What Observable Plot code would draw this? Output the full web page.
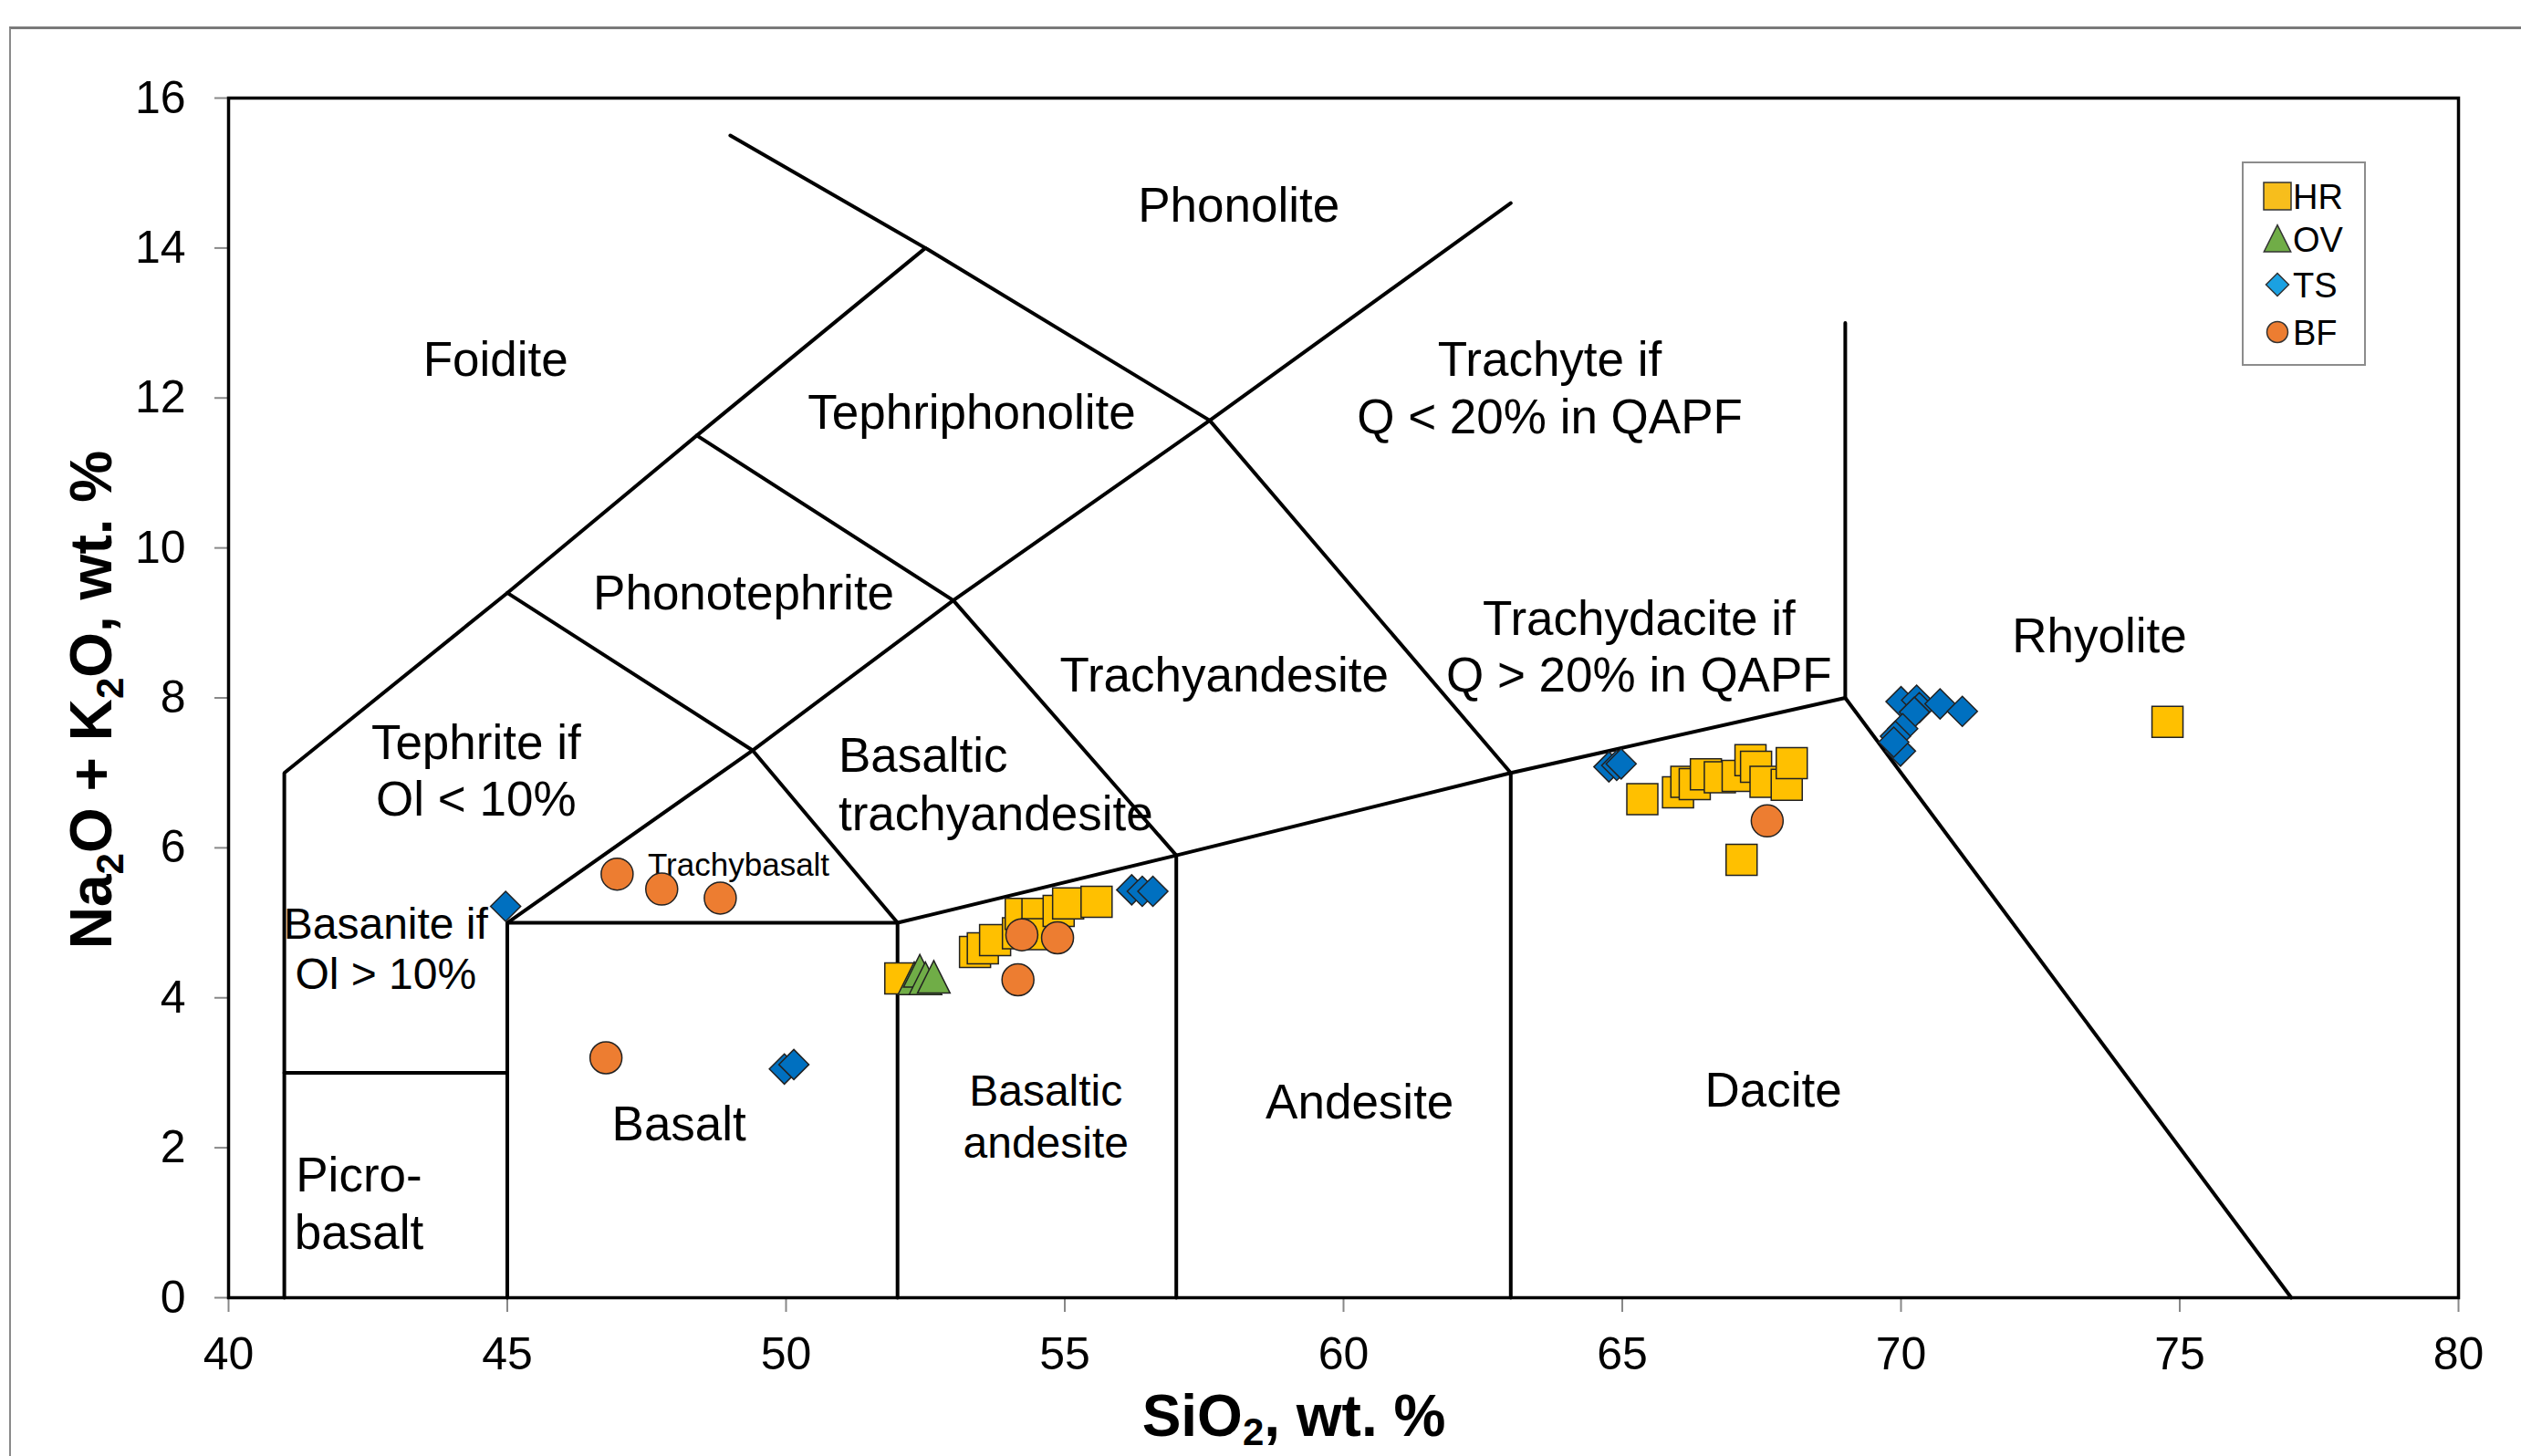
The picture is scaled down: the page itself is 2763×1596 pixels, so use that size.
<!DOCTYPE html>
<html><head><meta charset="utf-8">
<script src="https://cdn.jsdelivr.net/npm/d3@7"></script>
<script src="https://cdn.jsdelivr.net/npm/@observablehq/plot@0.6"></script>
<style>
html,body{margin:0;padding:0;background:#fff;overflow:hidden;}
#wrap{position:relative;width:2763px;height:1596px;overflow:hidden;}
#wrap svg{position:absolute;left:0;top:0;}
#border{position:absolute;left:10px;top:29px;width:2800px;height:1700px;border-top:3px solid #7a7a7a;border-left:2px solid #8a8a8a;pointer-events:none;}
</style></head><body><div id="wrap"></div>
<script>
// ---- data ----
const xTicks = [40,45,50,55,60,65,70,75,80];
const yTicks = [0,2,4,6,8,10,12,14,16];

const seriesNames = ["HR","OV","TS","BF"];

const HR_x = [52.05,53.39,53.53,53.75,54.16,54.21,54.51,54.5,54.89,55.06,55.57,
              65.36,66.0,66.15,66.3,66.5,66.75,67.07,67.3,67.4,67.57,67.95,68.04,67.14,74.78];
const HR_y = [4.26,4.61,4.66,4.77,4.86,5.12,5.12,4.85,5.16,5.26,5.28,
              6.65,6.74,6.88,6.85,6.98,6.94,6.96,7.17,7.08,6.88,6.84,7.13,5.84,7.68];

const OV_x = [52.3,52.4,52.5,52.65];
const OV_y = [4.25,4.35,4.25,4.27];

const TS_x = [44.97,49.97,50.14,56.2,56.39,56.58,64.76,64.9,64.98,
              70.0,70.28,70.33,70.24,70.7,71.1,70.03,69.9,69.99,69.87];
const TS_y = [5.22,3.05,3.11,5.44,5.42,5.42,7.08,7.1,7.12,
              7.95,7.97,7.87,7.81,7.92,7.82,7.59,7.49,7.29,7.41];

const BF_x = [46.97,47.77,48.82,46.77,54.23,54.87,54.16,67.6];
const BF_y = [5.65,5.45,5.33,3.2,4.84,4.80,4.24,6.36];

// TAS field boundaries (SiO2, Na2O+K2O)
const boundaries = [
  [[41,0],[41,7],[45,9.4],[48.4,11.5],[52.5,14],[57.6,11.7],[63,7],[69,8],[77,0]],
  [[49,15.5],[52.5,14]],
  [[57.6,11.7],[63,14.6]],
  [[69,8],[69,13]],
  [[41,3],[45,3]],
  [[45,0],[45,5],[49.4,7.3],[53,9.3],[57.6,11.7]],
  [[45,9.4],[49.4,7.3],[52,5],[57,5.9],[63,7]],
  [[48.4,11.5],[53,9.3],[57,5.9]],
  [[45,5],[52,5]],
  [[52,0],[52,5]],
  [[57,0],[57,5.9]],
  [[63,0],[63,7]]
];

const mainLabelText = ["Phonolite","Foidite","Tephriphonolite","Trachyte if","Q < 20% in QAPF","Phonotephrite",
  "Trachyandesite","Trachydacite if","Q > 20% in QAPF","Rhyolite","Tephrite if","Ol < 10%","Andesite","Dacite",
  "Basalt","Picro-","basalt"];
const mainLabelX = [58.12,44.79,53.33,63.7,63.7,49.24,57.86,65.3,65.3,73.56,44.44,44.44,60.29,67.71,48.08,42.34,42.34];
const mainLabelY = [14.56,12.5,11.79,12.5,11.73,9.39,8.29,9.04,8.29,8.81,7.39,6.64,2.6,2.75,2.30,1.63,0.86];

const smallLabelText = ["Basanite if","Ol > 10%","Basaltic","andesite"];
const smallLabelX = [42.82,42.82,54.66,54.66];
const smallLabelY = [4.98,4.30,2.75,2.06];

const btaLabelText = ["Basaltic","trachyandesite"];
const btaLabelX = [50.94,50.94];
const btaLabelY = [7.22,6.44];

const tbLabelText = ["Trachybasalt"];
const tbLabelX = [49.15];
const tbLabelY = [5.76];

// ---- helpers ----
const rows = (xs, ys) => xs.map((x, i) => ({x, y: ys[i]}));
const labelRows = (t, xs, ys) => t.map((s, i) => ({text: s, x: xs[i], y: ys[i]}));
const lineRows = boundaries.flatMap((pl, id) => pl.map(([x, y]) => ({x, y, id})));

const sqSym = {draw(c, size){const r = Math.sqrt(size/Math.PI); c.rect(-r,-r,2*r,2*r);}};
const triSym = {draw(c, size){const r = Math.sqrt(size/Math.PI); c.moveTo(0,-r*1.1); c.lineTo(r*1.05,r); c.lineTo(-r*1.05,r); c.closePath();}};
const diaSym = {draw(c, size){const r = Math.sqrt(size/Math.PI); c.moveTo(0,-r); c.lineTo(r,0); c.lineTo(0,r); c.lineTo(-r,0); c.closePath();}};
const cirSym = {draw(c, size){const r = Math.sqrt(size/Math.PI); c.moveTo(r,0); c.arc(0,0,r,0,2*Math.PI); c.closePath();}};

const colors = {HR:"#FFC000", OV:"#70AD47", TS:"#0070C0", BF:"#ED7D31"};
const font = "'Liberation Sans', Arial, Helvetica, sans-serif";

const chart = Plot.plot({
  width: 2763, height: 1596,
  marginLeft: 250, marginRight: 69, marginTop: 107, marginBottom: 174,
  x: {domain: [40, 80]},
  y: {domain: [0, 16]},
  style: {fontFamily: font, background: "transparent", color: "black"},
  marks: [
    Plot.axisX({ticks: xTicks, tickSize: 16, tickPadding: 27, fontSize: 50, stroke: "#888", fill: "black", strokeWidth: 2, label: null}),
    Plot.axisY({ticks: yTicks, tickSize: 15, tickPadding: 32, fontSize: 50, stroke: "#888", fill: "black", strokeWidth: 2, label: null}),
    Plot.line(lineRows, {x: "x", y: "y", z: "id", stroke: "black", strokeWidth: 4, strokeLinejoin: "miter"}),
    Plot.frame({stroke: "black", strokeWidth: 3.5}),
    Plot.text(labelRows(mainLabelText, mainLabelX, mainLabelY), {x: "x", y: "y", text: "text", fontSize: 53, fill: "black", textAnchor: "middle", lineAnchor: "middle"}),
    Plot.text(labelRows(smallLabelText, smallLabelX, smallLabelY), {x: "x", y: "y", text: "text", fontSize: 48, fill: "black", textAnchor: "middle", lineAnchor: "middle"}),
    Plot.text(labelRows(btaLabelText, btaLabelX, btaLabelY), {x: "x", y: "y", text: "text", fontSize: 53, fill: "black", textAnchor: "start", lineAnchor: "middle"}),
    Plot.text(labelRows(tbLabelText, tbLabelX, tbLabelY), {x: "x", y: "y", text: "text", fontSize: 35, fill: "black", textAnchor: "middle", lineAnchor: "middle"}),
    Plot.dot(rows(HR_x, HR_y), {x: "x", y: "y", symbol: sqSym, r: 17, fill: colors.HR, stroke: "#222", strokeWidth: 1.5}),
    Plot.dot(rows(OV_x, OV_y), {x: "x", y: "y", symbol: triSym, r: 17, fill: colors.OV, stroke: "#222", strokeWidth: 1.5}),
    Plot.dot(rows(TS_x, TS_y), {x: "x", y: "y", symbol: diaSym, r: 16.5, fill: colors.TS, stroke: "#222", strokeWidth: 1.5}),
    Plot.dot(rows(BF_x, BF_y), {x: "x", y: "y", symbol: cirSym, r: 17.5, fill: colors.BF, stroke: "#222", strokeWidth: 1.5})
  ]
});

const wrap = document.getElementById("wrap");
wrap.appendChild(chart);
const bd = document.createElement("div"); bd.id = "border"; wrap.appendChild(bd);

const svg = d3.select(chart);

// axis titles with subscripts
const xl = svg.append("text").attr("x", 1418).attr("y", 1574).attr("text-anchor", "middle")
  .attr("font-size", 64).attr("font-weight", "bold").attr("font-family", font).attr("fill", "black");
xl.append("tspan").text("SiO");
xl.append("tspan").attr("font-size", 42).attr("dy", 10).text("2");
xl.append("tspan").attr("dy", -10).text(", wt. %");

const yl = svg.append("text").attr("transform", "translate(122,767) rotate(-90)").attr("text-anchor", "middle")
  .attr("font-size", 64).attr("font-weight", "bold").attr("font-family", font).attr("fill", "black");
yl.append("tspan").text("Na");
yl.append("tspan").attr("font-size", 42).attr("dy", 13).text("2");
yl.append("tspan").attr("dy", -13).text("O + K");
yl.append("tspan").attr("font-size", 42).attr("dy", 13).text("2");
yl.append("tspan").attr("dy", -13).text("O, wt. %");

// legend
const lg = svg.append("g");
lg.append("rect").attr("x", 2458).attr("y", 178).attr("width", 134).attr("height", 222)
  .attr("fill", "white").attr("stroke", "#8c8c8c").attr("stroke-width", 2);
const legendSyms = {HR: [sqSym, 15, "#F7BE1C"], OV: [triSym, 14, "#70AD47"], TS: [diaSym, 12.5, "#1BA1E2"], BF: [cirSym, 11.5, "#ED7D31"]};
const legendCY = [215, 262, 312, 364];
seriesNames.forEach((name, i) => {
  const [sym, r, col] = legendSyms[name];
  const p = d3.path(); sym.draw(p, Math.PI * r * r);
  lg.append("path").attr("d", p.toString()).attr("transform", `translate(2496,${legendCY[i]})`)
    .attr("fill", col).attr("stroke", "#333").attr("stroke-width", 1.5);
  lg.append("text").attr("x", 2513).attr("y", legendCY[i] + 14).attr("font-size", 38)
    .attr("text-anchor", "start").attr("font-family", font).attr("fill", "black").text(name);
});
</script>
</body></html>
